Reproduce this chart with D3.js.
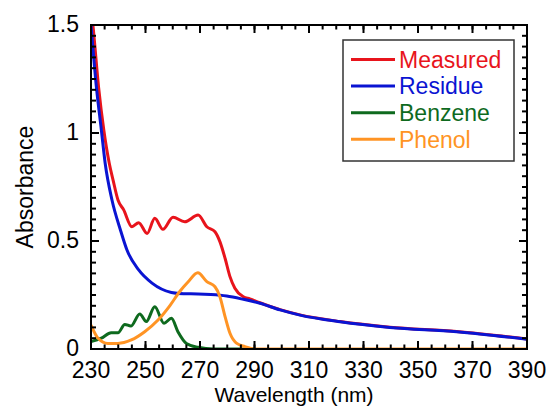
<!DOCTYPE html>
<html>
<head>
<meta charset="utf-8">
<script src="https://cdn.jsdelivr.net/npm/d3@7"></script>
<style>
  body { margin: 0; background: #fff; }
  svg text { font-family: "Liberation Sans", Arial, sans-serif; }
</style>
</head>
<body>
<svg id="chart" width="548" height="407"></svg>
<script>
// values
var measuredWl  = [230, 230.7, 232.8, 234.7, 236.7, 238.1, 239.9, 242, 245, 247.5, 250.6, 253.4, 256.4, 260.1, 264.4, 269.3, 272.5, 275.5, 277.3, 279.2, 281, 282.8, 285.9, 288.3, 292, 299.4, 306.7, 321.4, 339.7, 364.2, 390];
var measuredAbs = [1.58, 1.5, 1.21, 1.014, 0.86, 0.782, 0.69, 0.644, 0.566, 0.585, 0.535, 0.605, 0.554, 0.61, 0.589, 0.62, 0.566, 0.543, 0.497, 0.42, 0.335, 0.281, 0.242, 0.232, 0.214, 0.182, 0.158, 0.127, 0.101, 0.081, 0.046];

var residueWl  = [230, 232, 233.8, 235.2, 237.7, 240.8, 243.2, 247.5, 252.4, 259.5, 264, 269.3, 274, 279.8, 285.9, 292, 299.4, 306.7, 321.4, 339.7, 364.2, 390];
var residueAbs = [1.5, 1.21, 1.014, 0.86, 0.69, 0.551, 0.458, 0.366, 0.305, 0.262, 0.256, 0.255, 0.252, 0.245, 0.23, 0.212, 0.181, 0.157, 0.126, 0.1, 0.08, 0.045];

var benzeneWl  = [230, 233.8, 237.4, 239.9, 242.4, 244.6, 247.9, 250.3, 253.4, 256.8, 259.5, 261.9, 265, 269.3, 275, 290];
var benzeneAbs = [0.034, 0.05, 0.075, 0.075, 0.114, 0.106, 0.162, 0.127, 0.196, 0.119, 0.142, 0.08, 0.026, 0.008, 0, 0];

var phenolWl  = [230, 232.6, 236.2, 239.9, 244.8, 249.7, 254.6, 258.9, 262.5, 265.6, 269.2, 272.5, 275.5, 277.3, 279.2, 281, 283.5, 286.5, 290, 390];
var phenolAbs = [0.111, 0.05, 0.026, 0.026, 0.042, 0.08, 0.134, 0.2, 0.265, 0.31, 0.353, 0.312, 0.288, 0.242, 0.15, 0.073, 0.026, 0.011, 0, 0];

var seriesNames  = ["Measured", "Residue", "Benzene", "Phenol"];
var seriesColors = ["#e8141c", "#0a14d2", "#0e6a1e", "#ff9424"];

var xTicks = [230, 250, 270, 290, 310, 330, 350, 370, 390];
var yTicks = [0, 0.5, 1, 1.5];

var svg = d3.select("#chart"),
    margin = {top: 25, right: 21, bottom: 58, left: 91},
    width = +svg.attr("width") - margin.left - margin.right,
    height = +svg.attr("height") - margin.top - margin.bottom,
    g = svg.append("g").attr("transform", "translate(" + margin.left + "," + margin.top + ")");

var x = d3.scaleLinear().domain([230, 390]).range([0, width]);
var y = d3.scaleLinear().domain([0, 1.5]).range([height, 0]);

svg.append("defs").append("clipPath").attr("id", "plotclip")
  .append("rect").attr("x", 0).attr("y", 0).attr("width", width).attr("height", height);

var line = d3.line()
    .x(function(d) { return x(d[0]); })
    .y(function(d) { return y(d[1]); })
    .curve(d3.curveMonotoneX);

var series = [
  d3.zip(measuredWl, measuredAbs),
  d3.zip(residueWl, residueAbs),
  d3.zip(benzeneWl, benzeneAbs),
  d3.zip(phenolWl, phenolAbs)
];

var lines = g.append("g").attr("clip-path", "url(#plotclip)");
series.forEach(function(s, i) {
  lines.append("path")
    .datum(s)
    .attr("fill", "none")
    .attr("stroke", seriesColors[i])
    .attr("stroke-width", 3)
    .attr("stroke-linejoin", "round")
    .attr("d", line);
});

// ticks on all four sides, pointing inward
var minorX = d3.range(235, 390, 5);
var minorY = d3.range(0.05, 1.5, 0.05);

function tickMarks(vals, len, horizontal) {
  vals.forEach(function(v) {
    if (horizontal) {
      g.append("line").attr("x1", x(v)).attr("x2", x(v)).attr("y1", height).attr("y2", height - len).attr("stroke", "#000").attr("stroke-width", 2);
      g.append("line").attr("x1", x(v)).attr("x2", x(v)).attr("y1", 0).attr("y2", len).attr("stroke", "#000").attr("stroke-width", 2);
    } else {
      g.append("line").attr("x1", 0).attr("x2", len).attr("y1", y(v)).attr("y2", y(v)).attr("stroke", "#000").attr("stroke-width", 2);
      g.append("line").attr("x1", width).attr("x2", width - len).attr("y1", y(v)).attr("y2", y(v)).attr("stroke", "#000").attr("stroke-width", 2);
    }
  });
}
tickMarks(minorX, 4.5, true);
tickMarks(xTicks, 8, true);
tickMarks(minorY, 5, false);
tickMarks(yTicks, 8, false);

g.append("rect")
  .attr("width", width).attr("height", height)
  .attr("fill", "none").attr("stroke", "#000").attr("stroke-width", 2);

g.selectAll(".xlab").data(xTicks).enter().append("text")
  .attr("x", function(d) { return x(d); })
  .attr("y", height + 29)
  .attr("text-anchor", "middle")
  .style("font-size", "23px")
  .text(function(d) { return d; });

g.selectAll(".ylab").data(yTicks).enter().append("text")
  .attr("x", -12)
  .attr("y", function(d) { return y(d); })
  .attr("dy", "0.3em")
  .attr("text-anchor", "end")
  .style("font-size", "23px")
  .text(function(d) { return d; });

svg.append("text")
  .attr("x", 294).attr("y", 402)
  .attr("text-anchor", "middle")
  .style("font-size", "21px")
  .text("Wavelength (nm)");

svg.append("text")
  .attr("transform", "translate(33," + (margin.top + height / 2) + ") rotate(-90)")
  .attr("text-anchor", "middle")
  .style("font-size", "23px")
  .text("Absorbance");

// legend
var lg = svg.append("g");
lg.append("rect")
  .attr("x", 343).attr("y", 40).attr("width", 171).attr("height", 121)
  .attr("fill", "#fff").attr("stroke", "#333").attr("stroke-width", 1.5);
seriesNames.forEach(function(name, i) {
  var yy = 59.5 + i * 26.6;
  lg.append("line").attr("x1", 351).attr("x2", 395).attr("y1", yy).attr("y2", yy)
    .attr("stroke", seriesColors[i]).attr("stroke-width", 3);
  lg.append("text").attr("x", 399).attr("y", yy).attr("dy", "0.36em")
    .style("font-size", "23px").style("fill", seriesColors[i]).text(name);
});
</script>
</body>
</html>
